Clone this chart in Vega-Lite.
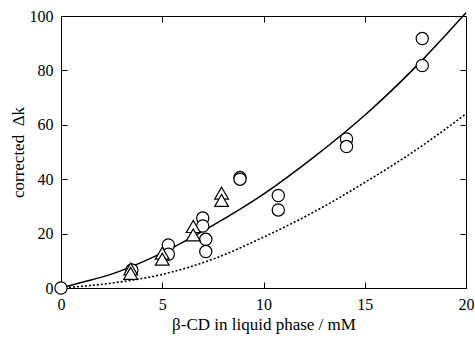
{
  "$schema": "https://vega.github.io/schema/vega-lite/v6.json",
  "autosize": "none",
  "padding": {"left": 61, "top": 16, "right": 9, "bottom": 53},
  "width": 405,
  "height": 272,
  "background": "white",
  "config": {
    "view": {"stroke": "black", "strokeWidth": 1},
    "font": "Liberation Serif",
    "axis": {
      "grid": false,
      "domainColor": "black",
      "domainWidth": 1,
      "tickColor": "black",
      "tickWidth": 1,
      "tickSize": -6,
      "labelFlush": false,
      "labelOverlap": false,
      "labelFont": "Liberation Serif",
      "labelFontSize": 16,
      "labelColor": "black",
      "titleFont": "Liberation Serif",
      "titleFontSize": 17,
      "titleFontWeight": "normal",
      "titleColor": "black"
    }
  },
  "datasets": {
    "fit": [
      {"x": 0, "y": 0}, {"x": 1, "y": 2.0}, {"x": 2.5, "y": 5.1}, {"x": 5, "y": 12.9},
      {"x": 7.5, "y": 23.0}, {"x": 10, "y": 34.5}, {"x": 12.5, "y": 48.2},
      {"x": 15, "y": 63.5}, {"x": 17.5, "y": 81.2}, {"x": 20, "y": 101.2}
    ],
    "fit2": [
      {"x": 0, "y": 0}, {"x": 2.5, "y": 1.8}, {"x": 5, "y": 5.0}, {"x": 7.5, "y": 10.6},
      {"x": 10, "y": 18.7}, {"x": 12.5, "y": 28.0}, {"x": 15, "y": 38.8},
      {"x": 17.5, "y": 50.6}, {"x": 20, "y": 64.0}
    ],
    "obs": [
      {"x": 0, "y": 0, "s": "circle"},
      {"x": 3.5, "y": 6.6, "s": "circle"},
      {"x": 5.3, "y": 15.8, "s": "circle"},
      {"x": 5.3, "y": 12.4, "s": "circle"},
      {"x": 7.0, "y": 25.7, "s": "circle"},
      {"x": 7.0, "y": 22.8, "s": "circle"},
      {"x": 7.15, "y": 17.9, "s": "circle"},
      {"x": 7.15, "y": 13.4, "s": "circle"},
      {"x": 8.84, "y": 40.6, "s": "circle"},
      {"x": 8.84, "y": 40.0, "s": "circle"},
      {"x": 10.73, "y": 34.0, "s": "circle"},
      {"x": 10.73, "y": 28.7, "s": "circle"},
      {"x": 14.1, "y": 54.8, "s": "circle"},
      {"x": 14.1, "y": 52.0, "s": "circle"},
      {"x": 17.84, "y": 91.7, "s": "circle"},
      {"x": 17.84, "y": 81.8, "s": "circle"},
      {"x": 3.44, "y": 7.0, "s": "triangle"},
      {"x": 3.44, "y": 5.4, "s": "triangle"},
      {"x": 5.0, "y": 12.8, "s": "triangle"},
      {"x": 5.0, "y": 10.6, "s": "triangle"},
      {"x": 6.53, "y": 22.6, "s": "triangle"},
      {"x": 6.53, "y": 19.5, "s": "triangle"},
      {"x": 7.93, "y": 34.9, "s": "triangle"},
      {"x": 7.93, "y": 32.2, "s": "triangle"}
    ]
  },
  "resolve": {"axis": {"x": "independent", "y": "independent"}},
  "layer": [
    {
      "data": {"name": "fit"},
      "mark": {"type": "line", "color": "black", "strokeWidth": 1.5, "interpolate": "monotone"},
      "encoding": {
        "x": {"field": "x", "type": "quantitative", "scale": {"domain": [0, 20], "nice": false},
          "axis": {"values": [0, 5, 10, 15, 20], "title": "β-CD in liquid phase / mM", "labelPadding": 14, "titlePadding": 4}},
        "y": {"field": "y", "type": "quantitative", "scale": {"domain": [0, 100], "nice": false},
          "axis": {"values": [0, 20, 40, 60, 80, 100], "title": "corrected\u00a0\u00a0Δk", "labelPadding": 14, "titlePadding": 2}}
      }
    },
    {
      "data": {"name": "fit2"},
      "mark": {"type": "line", "color": "black", "strokeWidth": 1.6, "strokeDash": [2, 2], "interpolate": "monotone"},
      "encoding": {
        "x": {"field": "x", "type": "quantitative", "axis": null},
        "y": {"field": "y", "type": "quantitative", "axis": null}
      }
    },
    {
      "data": {"name": "obs"},
      "mark": {"type": "point", "filled": true, "fill": "white", "stroke": "black", "strokeWidth": 1.2, "opacity": 1},
      "encoding": {
        "x": {"field": "x", "type": "quantitative",
          "axis": {"orient": "top", "values": [5, 10, 15], "labels": false, "title": null, "domain": false}},
        "y": {"field": "y", "type": "quantitative",
          "axis": {"orient": "right", "values": [20, 40, 60, 80], "labels": false, "title": null, "domain": false}},
        "shape": {"field": "s", "type": "nominal", "scale": {"domain": ["circle", "triangle"], "range": ["circle", "triangle-up"]}, "legend": null},
        "size": {"field": "s", "type": "nominal", "scale": {"domain": ["circle", "triangle"], "range": [150, 190]}, "legend": null}
      }
    }
  ]
}
